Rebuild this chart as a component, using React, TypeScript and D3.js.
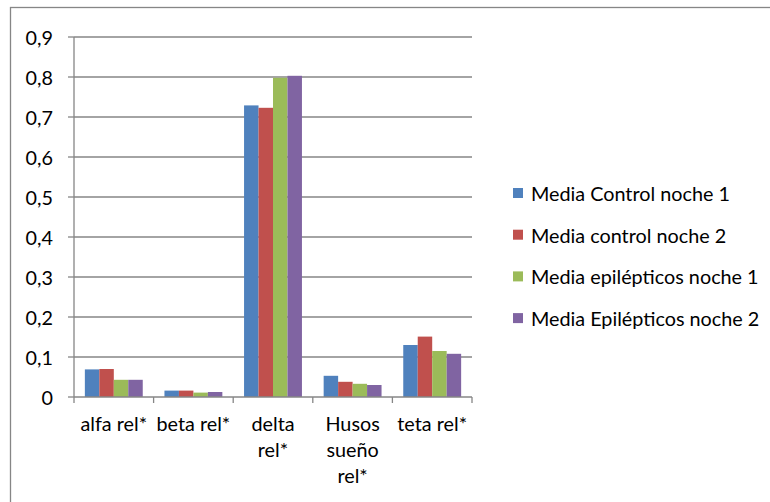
import React from "react";
import * as d3 from "d3";

const categories: string[][] = [
  ["alfa rel*"],
  ["beta rel*"],
  ["delta", "rel*"],
  ["Husos", "sueño", "rel*"],
  ["teta rel*"],
];
const seriesNames = [
  "Media Control noche 1",
  "Media control noche 2",
  "Media epilépticos noche 1",
  "Media Epilépticos noche 2",
];
const seriesColors = ["#4F81BD", "#C0504D", "#9BBB59", "#8064A2"];
const controlNoche1 = [0.069, 0.016, 0.729, 0.053, 0.130];
const controlNoche2 = [0.070, 0.016, 0.723, 0.038, 0.151];
const epiNoche1 = [0.043, 0.011, 0.798, 0.033, 0.115];
const epiNoche2 = [0.043, 0.0125, 0.803, 0.030, 0.108];
const yTicks = [0, 0.1, 0.2, 0.3, 0.4, 0.5, 0.6, 0.7, 0.8, 0.9];

const seriesValues = [controlNoche1, controlNoche2, epiNoche1, epiNoche2];

const W = 770;
const H = 502;
const plot = { left: 74, right: 472, top: 37, bottom: 397 };
const FONT = "Lato, 'Noto Sans', sans-serif";
const FS = 19.8;
const GRID = "#868686";

export default function App() {
  const keys = categories.map((c) => c.join(" "));
  const x0 = d3
    .scaleBand<string>()
    .domain(keys)
    .range([plot.left, plot.right])
    .paddingInner(0)
    .paddingOuter(0);
  // group of four bars with 150% gap width
  const groupW = (x0.bandwidth() * 4) / 5.5;
  const x1 = d3
    .scaleBand<number>()
    .domain(d3.range(seriesNames.length))
    .range([0, groupW]);
  const y = d3.scaleLinear().domain([0, 0.9]).range([plot.bottom, plot.top]);

  const boundaries = [plot.left, ...keys.map((k) => (x0(k) as number) + x0.bandwidth())];

  return (
    <div style={{ position: "absolute", left: 0, top: 0 }}>
      <svg width={W} height={H} style={{ display: "block", background: "#fff" }}>
        <rect x={10.5} y={7.5} width={800} height={600} fill="#fff" stroke={GRID} strokeWidth={1.3} />
        {yTicks.map((t) => (
          <g key={t}>
            {t > 0 && (
              <line x1={plot.left} x2={plot.right} y1={y(t)} y2={y(t)} stroke={GRID} strokeWidth={1.3} />
            )}
            <line x1={plot.left - 6} x2={plot.left} y1={y(t)} y2={y(t)} stroke={GRID} strokeWidth={1.3} />
            <text
              x={53}
              y={y(t)}
              textAnchor="end"
              dominantBaseline="central"
              fontFamily={FONT}
              fontSize={FS}
              fill="#000"
            >
              {t === 0 ? "0" : d3.format(".1f")(t).replace(".", ",")}
            </text>
          </g>
        ))}
        {keys.map((k, ci) => {
          const gx = (x0(k) as number) + (x0.bandwidth() - groupW) / 2;
          return (
            <g key={k}>
              {seriesValues.map((vals, si) => (
                <rect
                  key={si}
                  x={gx + (x1(si) as number)}
                  y={y(vals[ci])}
                  width={x1.bandwidth()}
                  height={plot.bottom - y(vals[ci])}
                  fill={seriesColors[si]}
                />
              ))}
              {categories[ci].map((line, li) => (
                <text
                  key={li}
                  x={(x0(k) as number) + x0.bandwidth() / 2}
                  y={423 + li * 26}
                  textAnchor="middle"
                  dominantBaseline="central"
                  fontFamily={FONT}
                  fontSize={FS}
                  fill="#000"
                >
                  {line}
                </text>
              ))}
            </g>
          );
        })}
        <line x1={plot.left} x2={plot.left} y1={plot.top} y2={plot.bottom} stroke={GRID} strokeWidth={1.3} />
        <line x1={plot.left} x2={plot.right} y1={plot.bottom} y2={plot.bottom} stroke={GRID} strokeWidth={1.3} />
        {boundaries.map((bx, i) => (
          <line key={i} x1={bx} x2={bx} y1={plot.bottom} y2={plot.bottom + 6} stroke={GRID} strokeWidth={1.3} />
        ))}
        {seriesNames.map((name, i) => (
          <g key={name} transform={`translate(513, ${193 + i * 41.7})`}>
            <rect x={0} y={-5} width={10} height={10} fill={seriesColors[i]} />
            <text x={18} y={0} dominantBaseline="central" fontFamily={FONT} fontSize={FS} fill="#000">
              {name}
            </text>
          </g>
        ))}
      </svg>
    </div>
  );
}
